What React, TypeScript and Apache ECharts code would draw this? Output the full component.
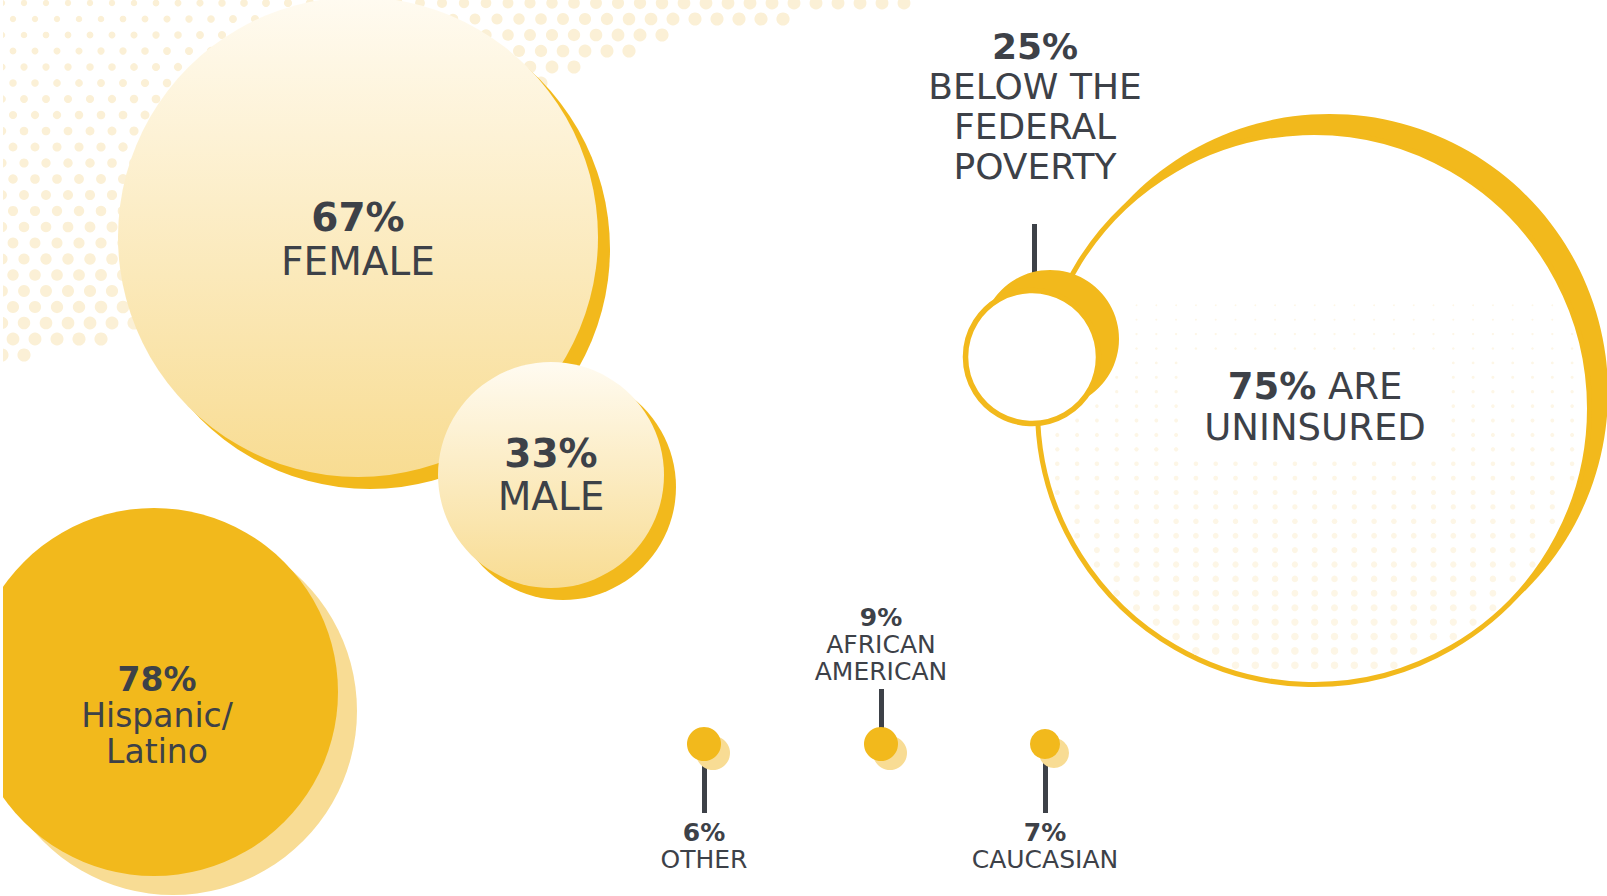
import React, { useEffect, useRef } from "react";
import * as echarts from "echarts";

// ---------- data ----------
const genderCategories = ["FEMALE", "MALE"];
const genderPercents = [67, 33];
const ethnicityCategories = ["Hispanic/\nLatino", "OTHER", "AFRICAN\nAMERICAN", "CAUCASIAN"];
const ethnicityPercents = [78, 6, 9, 7];
const coverageCategories = ["ARE\nUNINSURED", "BELOW THE\nFEDERAL\nPOVERTY"];
const coveragePercents = [75, 25];

// ---------- layout (pixel space of hidden axes) ----------
const W = 1607;
const H = 896;
const genderLayout = [
  { x: 358, y: 237, r: 240, sh: 12, fs: 39, lh: 44, off: [0, 2] },
  { x: 551, y: 475, r: 113, sh: 12, fs: 39, lh: 43, off: [0, 0] },
];
const ethnicityLayout = [
  { x: 154, y: 692, r: 184, sh: 19, fs: 33, lh: 36, off: [3, 23] },
  { x: 704, y: 744, r: 17, sh: 9, fs: 25, lh: 27, off: [0, 102], stem: [744, 813] },
  { x: 881, y: 744, r: 17, sh: 9, fs: 25, lh: 27, off: [0, -100], stem: [689, 744] },
  { x: 1045, y: 744, r: 15, sh: 9, fs: 25, lh: 27, off: [0, 102], stem: [744, 813] },
];
const coverageLayout = [
  { x: 1313.5, y: 408.5, r: 276, bw: 5, cx: 16, cy: -16, cr: 278.5, fs: 37, lh: 41, off: [1.5, -2], inline: true },
  { x: 1032, y: 357, r: 66.5, bw: 5.5, cx: 18, cy: -18, cr: 69, fs: 36, lh: 40, off: [3, -251], inline: false, stem: [224, 276], stemX: 1034 },
];

// ---------- style ----------
const FONT = "'DejaVu Sans', sans-serif";
const TEXT = "#3D4148";
const GOLD = "#F2B91C";
const PALE = "#F8DC94";
const FAINT = "#FBF0D6";

function rich(fs: number, lh: number) {
  return {
    v: { fontFamily: FONT, fontWeight: "bold", fontSize: fs, lineHeight: lh, color: TEXT },
    t: { fontFamily: FONT, fontWeight: "normal", fontSize: fs, lineHeight: lh, color: TEXT },
  };
}

function labelText(pct: number, cat: string, inline: boolean) {
  const lines = cat.split("\n");
  if (inline) {
    const [first, ...rest] = lines;
    return [`{v|${pct}%}{t| ${first}}`, ...rest.map((l) => `{t|${l}}`)].join("\n");
  }
  return [`{v|${pct}%}`, ...lines.map((l) => `{t|${l}}`)].join("\n");
}

function label(text: string, fs: number, lh: number, off: number[]) {
  return {
    show: true,
    position: "inside",
    formatter: text,
    offset: off,
    rich: rich(fs, lh),
    align: "center",
    verticalAlign: "middle",
    opacity: 1,
  };
}

function gradient() {
  return new echarts.graphic.LinearGradient(0, 0, 0, 1, [
    { offset: 0, color: "#FFFBF1" },
    { offset: 1, color: "#F8DC92" },
  ]);
}

// lower edge of the decorative halftone band (top-left)
const bandEdge: [number, number][] = [
  [0, 362], [120, 337], [350, 215], [563, 80], [687, 26], [800, 18], [910, 17],
];
function edgeAt(x: number) {
  for (let i = 1; i < bandEdge.length; i++) {
    const [x0, y0] = bandEdge[i - 1];
    const [x1, y1] = bandEdge[i];
    if (x <= x1) return y0 + ((y1 - y0) * (x - x0)) / (x1 - x0);
  }
  return -1;
}

// decorative halftone dots
function decorations() {
  const els: any[] = [];
  const step = 22;
  let row = 0;
  for (let y = 3; y < 380; y += 16, row++) {
    const off = (row % 2) * (step / 2);
    for (let x = off + 2; x < 912; x += step) {
      const yb = edgeAt(x);
      if (y > yb) continue;
      const dist = yb - y;
      const r = 6.6 - 3.4 * Math.min(1, dist / 330);
      els.push({ type: "circle", silent: true, z: 0, shape: { cx: x, cy: y, r }, style: { fill: FAINT } });
    }
  }
  // inner dots of the uninsured circle
  const c = coverageLayout[0];
  const p = coverageLayout[1];
  for (let y = c.y - c.r; y < c.y + c.r; y += 14.4) {
    for (let x = c.x - c.r; x < c.x + c.r; x += 19.8) {
      const d = Math.hypot(x - c.x, y - c.y);
      if (d > c.r - 6) continue;
      if (Math.hypot(x - p.x, y - p.y) < p.r + 10) continue;
      if (Math.hypot(x - (p.x + p.cx), y - (p.y + p.cy)) < p.cr + 6) continue;
      if (x > 1180 && x < 1450 && y > 355 && y < 455) continue;
      const r = 3.8 * Math.min(1, Math.max(0, (y - 200) / 440));
      if (r < 0.9) continue;
      els.push({ type: "circle", silent: true, z: 3, shape: { cx: x, cy: y, r }, style: { fill: "#FDF6E6" } });
    }
  }
  els.push({ type: "rect", silent: true, z: 100, shape: { x: 0, y: 0, width: 3, height: H }, style: { fill: "#fff" } });
  return els;
}

function buildOption() {
  const big = ethnicityLayout[0];
  const shadowData: any[] = [
    ...genderLayout.map((g) => ({ value: [g.x + g.sh, g.y + g.sh], symbolSize: g.r * 2, itemStyle: { color: GOLD } })),
    { value: [big.x + big.sh, big.y + big.sh], symbolSize: big.r * 2, itemStyle: { color: PALE } },
    {
      value: [coverageLayout[0].x + coverageLayout[0].cx, coverageLayout[0].y + coverageLayout[0].cy],
      symbolSize: coverageLayout[0].cr * 2,
      itemStyle: { color: GOLD },
    },
  ];

  const mainData: any[] = [
    ...genderLayout.map((g, i) => ({
      value: [g.x, g.y],
      symbolSize: g.r * 2,
      itemStyle: { color: gradient() },
      label: label(labelText(genderPercents[i], genderCategories[i], false), g.fs, g.lh, g.off),
    })),
    {
      value: [big.x, big.y],
      symbolSize: big.r * 2,
      itemStyle: { color: GOLD },
      label: label(labelText(ethnicityPercents[0], ethnicityCategories[0], false), big.fs, big.lh, big.off),
    },
    {
      value: [coverageLayout[0].x, coverageLayout[0].y],
      symbolSize: coverageLayout[0].r * 2,
      itemStyle: { color: "#ffffff", borderColor: GOLD, borderWidth: coverageLayout[0].bw },
      label: label(
        labelText(coveragePercents[0], coverageCategories[0], true),
        coverageLayout[0].fs,
        coverageLayout[0].lh,
        coverageLayout[0].off
      ),
    },
  ];

  const pv = coverageLayout[1];
  const small = ethnicityLayout.slice(1);

  const scatterBase = {
    type: "scatter",
    symbol: "circle",
    silent: true,
    clip: false,
    itemStyle: { opacity: 1 },
    emphasis: { disabled: true },
  };

  return {
    animation: false,
    backgroundColor: "#ffffff",
    grid: { left: 0, right: 0, top: 0, bottom: 0, containLabel: false },
    xAxis: { type: "value", min: 0, max: W, show: false },
    yAxis: { type: "value", min: 0, max: H, inverse: true, show: false },
    tooltip: { show: false },
    graphic: { elements: decorations() },
    series: [
      { ...scatterBase, name: "shadows", data: shadowData },
      { ...scatterBase, name: "bubbles", data: mainData },
      {
        type: "lines",
        coordinateSystem: "cartesian2d",
        silent: true,
        lineStyle: { color: TEXT, width: 5, opacity: 1, curveness: 0 },
        data: [{ coords: [[pv.stemX, pv.stem[0]], [pv.stemX, pv.stem[1]]] }],
      },
      {
        ...scatterBase,
        name: "poverty-crescent",
        data: [{ value: [pv.x + pv.cx, pv.y + pv.cy], symbolSize: pv.cr * 2, itemStyle: { color: GOLD } }],
      },
      {
        ...scatterBase,
        name: "poverty",
        data: [
          {
            value: [pv.x, pv.y],
            symbolSize: pv.r * 2,
            itemStyle: { color: "#ffffff", borderColor: GOLD, borderWidth: pv.bw },
            label: label(labelText(coveragePercents[1], coverageCategories[1], false), pv.fs, pv.lh, pv.off),
          },
        ],
      },
      {
        ...scatterBase,
        name: "dot-shadows",
        data: small.map((d) => ({ value: [d.x + d.sh, d.y + d.sh], symbolSize: d.r * 2, itemStyle: { color: PALE } })),
      },
      {
        type: "lines",
        coordinateSystem: "cartesian2d",
        silent: true,
        lineStyle: { color: TEXT, width: 5, opacity: 1, curveness: 0 },
        data: small.map((d) => ({ coords: [[d.x, d.stem![0]], [d.x, d.stem![1]]] })),
      },
      {
        ...scatterBase,
        name: "dots",
        data: small.map((d, i) => ({
          value: [d.x, d.y],
          symbolSize: d.r * 2,
          itemStyle: { color: GOLD },
          label: label(labelText(ethnicityPercents[i + 1], ethnicityCategories[i + 1], false), d.fs, d.lh, d.off),
        })),
      },
    ],
  };
}

export default function App() {
  const ref = useRef<HTMLDivElement>(null);
  useEffect(() => {
    document.body.style.margin = "0";
    const chart = echarts.init(ref.current!, null, { renderer: "svg" });
    chart.setOption(buildOption() as any);
    return () => chart.dispose();
  }, []);
  return (
    <div style={{ position: "absolute", left: 0, top: 0, width: W, height: H }}>
      <div ref={ref} style={{ width: W, height: H, background: "#fff" }} />
    </div>
  );
}
